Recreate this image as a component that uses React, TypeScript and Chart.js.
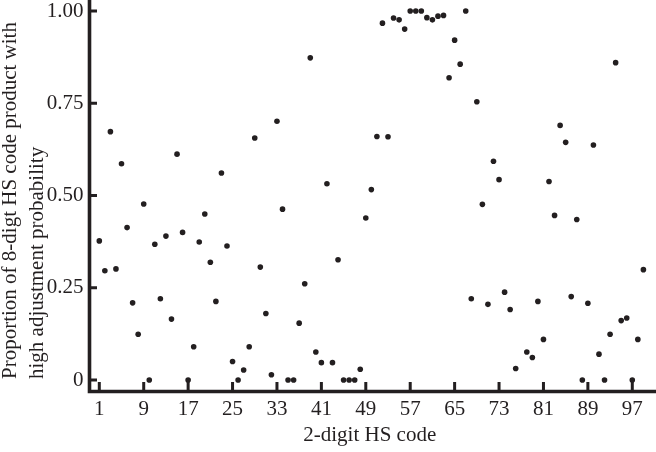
import React, { useEffect, useRef } from "react";
import { Chart, registerables } from "chart.js";

Chart.register(...registerables);

// 2-digit HS codes (77 is reserved, no data)
const hsCodes = [
  1, 2, 3, 4, 5, 6, 7, 8, 9, 10, 11, 12, 13, 14, 15, 16, 17, 18, 19, 20,
  21, 22, 23, 24, 25, 26, 27, 28, 29, 30, 31, 32, 33, 34, 35, 36, 37, 38, 39, 40,
  41, 42, 43, 44, 45, 46, 47, 48, 49, 50, 51, 52, 53, 54, 55, 56, 57, 58, 59, 60,
  61, 62, 63, 64, 65, 66, 67, 68, 69, 70, 71, 72, 73, 74, 75, 76, 78, 79, 80,
  81, 82, 83, 84, 85, 86, 87, 88, 89, 90, 91, 92, 93, 94, 95, 96, 97, 98, 99,
];

const proportions = [
  0.377, 0.296, 0.673, 0.301, 0.586, 0.413, 0.209, 0.124, 0.477, 0.0,
  0.368, 0.22, 0.39, 0.165, 0.612, 0.4, 0.0, 0.09, 0.374, 0.45,
  0.319, 0.213, 0.561, 0.363, 0.05, 0.0, 0.027, 0.09, 0.656, 0.306,
  0.18, 0.014, 0.701, 0.463, 0.0, 0.0, 0.154, 0.261, 0.873, 0.076,
  0.047, 0.532, 0.047, 0.326, 0.0, 0.0, 0.0, 0.029, 0.439, 0.516,
  0.66, 0.967, 0.659, 0.981, 0.976, 0.951, 1.0, 1.0, 1.0, 0.982,
  0.976, 0.986, 0.988, 0.819, 0.921, 0.856, 1.0, 0.22, 0.754, 0.476,
  0.205, 0.593, 0.543, 0.238, 0.191, 0.031, 0.076, 0.061, 0.213,
  0.11, 0.538, 0.446, 0.69, 0.644, 0.226, 0.435, 0.0, 0.208, 0.637,
  0.07, 0.0, 0.124, 0.86, 0.161, 0.168, 0.0, 0.11, 0.299,
];

const xTickValues = [1, 9, 17, 25, 33, 41, 49, 57, 65, 73, 81, 89, 97];
const yTickValues = [0, 0.25, 0.5, 0.75, 1];
const yTickLabels = ["0", "0.25", "0.50", "0.75", "1.00"];

const xTitle = "2-digit HS code";
const yTitleLines = [
  "Proportion of 8-digt HS code product with",
  "high adjustment probability",
];

const INK = "#231f20";
const FONT_FAMILY = '"Liberation Serif", "Times New Roman", serif';

const zeroPadding = (s: any) => {
  s.paddingTop = 0;
  s.paddingBottom = 0;
  s.paddingLeft = 0;
  s.paddingRight = 0;
};

const axesPlugin = {
  id: "customAxes",
  beforeDatasetsDraw(chart: any) {
    const { ctx, chartArea, scales } = chart;
    const xs = scales.x;
    const ys = scales.y;
    ctx.save();
    ctx.strokeStyle = INK;
    ctx.lineCap = "butt";
    // axis lines
    ctx.lineWidth = 3.6;
    ctx.beginPath();
    ctx.moveTo(chartArea.left, chartArea.top);
    ctx.lineTo(chartArea.left, chartArea.bottom + 1.8);
    ctx.moveTo(chartArea.left - 1.8, chartArea.bottom);
    ctx.lineTo(chartArea.right, chartArea.bottom);
    ctx.stroke();
    // inward tick marks
    ctx.lineWidth = 3;
    ctx.beginPath();
    xs.ticks.forEach((t: any) => {
      const px = xs.getPixelForValue(t.value);
      ctx.moveTo(px, chartArea.bottom);
      ctx.lineTo(px, chartArea.bottom - 9.5);
    });
    ys.ticks.forEach((t: any) => {
      const py = ys.getPixelForValue(t.value);
      ctx.moveTo(chartArea.left, py);
      ctx.lineTo(chartArea.left + 7.5, py);
    });
    ctx.stroke();
    ctx.restore();
  },
  afterDraw(chart: any) {
    const { ctx, chartArea } = chart;
    ctx.save();
    ctx.fillStyle = INK;
    ctx.font = `21px ${FONT_FAMILY}`;
    // x title
    ctx.textAlign = "center";
    ctx.textBaseline = "alphabetic";
    ctx.fillText(xTitle, (chartArea.left + chartArea.right) / 2 - 3, 440.5);
    // y title (rotated, left aligned from bottom)
    ctx.rotate(-Math.PI / 2);
    ctx.textAlign = "left";
    ctx.textBaseline = "middle";
    const lineXs = [10, 37];
    yTitleLines.forEach((line, i) => {
      ctx.fillText(line, -379, lineXs[i]);
    });
    ctx.restore();
  },
};

export default function App() {
  const canvasRef = useRef<HTMLCanvasElement | null>(null);

  useEffect(() => {
    const canvas = canvasRef.current;
    if (!canvas) return;
    const chart = new Chart(canvas, {
      type: "scatter",
      data: {
        datasets: [
          {
            data: hsCodes.map((c, i) => ({ x: c, y: proportions[i] })),
            backgroundColor: INK,
            borderWidth: 0,
            pointRadius: 2.8,
            pointHoverRadius: 2.8,
          },
        ],
      },
      options: {
        animation: false,
        responsive: false,
        devicePixelRatio: 1,
        layout: { padding: 0, autoPadding: false },
        plugins: {
          legend: { display: false },
          tooltip: { enabled: false },
          title: { display: false },
        },
        scales: {
          x: {
            type: "linear",
            min: -0.765,
            max: 101.27,
            afterBuildTicks: (s: any) => {
              s.ticks = xTickValues.map((v) => ({ value: v }));
            },
            afterFit: (s: any) => {
              s.height = 60.5;
              zeroPadding(s);
            },
            grid: { display: false, drawTicks: false },
            border: { display: false },
            ticks: {
              autoSkip: false,
              maxRotation: 0,
              minRotation: 0,
              padding: 5,
              color: INK,
              font: { family: FONT_FAMILY, size: 21 },
              callback: (v: any) => String(v),
            },
          },
          y: {
            type: "linear",
            min: -0.0312,
            max: 1.0298,
            afterBuildTicks: (s: any) => {
              s.ticks = yTickValues.map((v) => ({ value: v }));
            },
            afterFit: (s: any) => {
              s.width = 89.5;
              zeroPadding(s);
            },
            grid: { display: false, drawTicks: false },
            border: { display: false },
            ticks: {
              autoSkip: false,
              padding: 6,
              color: INK,
              font: { family: FONT_FAMILY, size: 21 },
              callback: (v: any) => {
                const idx = yTickValues.indexOf(Number(v));
                return idx >= 0 ? yTickLabels[idx] : "";
              },
            },
          },
        },
      },
      plugins: [axesPlugin],
    });
    return () => chart.destroy();
  }, []);

  return (
    <div style={{ position: "fixed", left: 0, top: 0, width: 656, height: 452, background: "#fff" }}>
      <canvas ref={canvasRef} width={656} height={452} style={{ display: "block" }} />
    </div>
  );
}
